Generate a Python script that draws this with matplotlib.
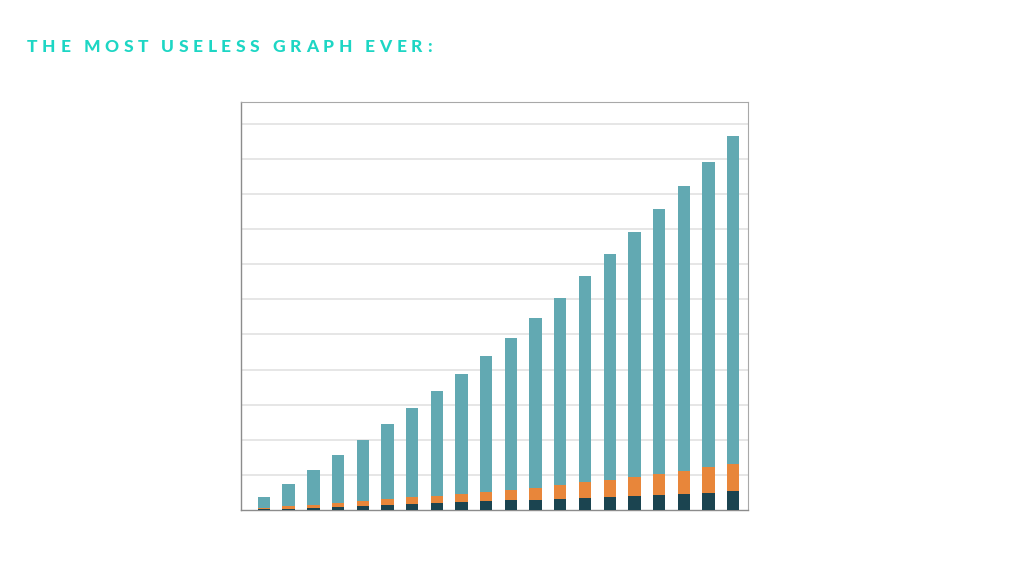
import numpy as np
import matplotlib.pyplot as plt

# values (1 unit = one gridline step)
dark = [0.03, 0.04, 0.06, 0.09, 0.11, 0.15, 0.18, 0.21, 0.23, 0.25,
        0.28, 0.29, 0.31, 0.34, 0.36, 0.40, 0.42, 0.46, 0.49, 0.53]
orange = [0.03, 0.07, 0.09, 0.12, 0.15, 0.15, 0.18, 0.20, 0.23, 0.27,
          0.29, 0.35, 0.41, 0.45, 0.49, 0.55, 0.61, 0.66, 0.73, 0.78]
teal = [0.30, 0.63, 0.99, 1.35, 1.73, 2.15, 2.54, 2.97, 3.41, 3.86,
        4.34, 4.84, 5.33, 5.87, 6.44, 6.96, 7.53, 8.10, 8.70, 9.33]
title = "THE MOST USELESS GRAPH EVER:"

x = np.arange(len(dark))
dark = np.array(dark)
orange = np.array(orange)
teal = np.array(teal)

fig = plt.figure(figsize=(10.24, 5.76), dpi=100)
ax = fig.add_axes([241/1024, 66/576, 507/1024, 408/576])

w = 0.5
ax.bar(x, dark, w, color='#1b4450', zorder=3)
ax.bar(x, orange, w, bottom=dark, color='#e8863a', zorder=3)
ax.bar(x, teal, w, bottom=dark + orange, color='#62a9b2', zorder=3)

ax.set_xlim(-0.93, 19.6)
ax.set_ylim(0, 11.62)
ax.set_yticks(np.arange(1, 12))
ax.set_xticks([])
ax.tick_params(axis='y', length=0, labelleft=False)
ax.yaxis.grid(True, color='#e2e2e2', linewidth=1.2, zorder=0)
ax.set_axisbelow(True)
for s in ['left', 'bottom']:
    ax.spines[s].set_color('#8c8c8c')
    ax.spines[s].set_linewidth(1.0)
for s in ['top', 'right']:
    ax.spines[s].set_color('#a8a8a8')
    ax.spines[s].set_linewidth(0.8)

# title with wide letter spacing, one glyph at a time
fig.canvas.draw()
r = fig.canvas.get_renderer()
xpos = 27
track = 4.6
for ch in title:
    if ch == ' ':
        xpos += 8.5
        continue
    t = fig.text(xpos/1024, 1 - 52/576, ch, color='#1dd6c4', fontsize=12.5,
                 fontweight='black', family='Lato', va='baseline', ha='left')
    bb = t.get_window_extent(renderer=r)
    xpos += bb.width + track

fig.savefig('out.png', dpi=100)
